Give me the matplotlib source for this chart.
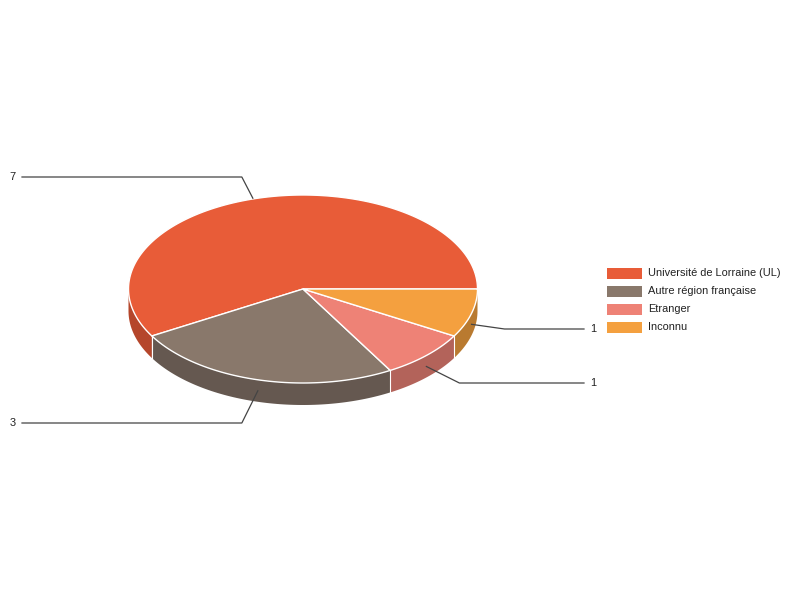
import numpy as np
import matplotlib.pyplot as plt
from matplotlib.patches import Polygon

plt.rcParams['font.family'] = ['Liberation Sans', 'DejaVu Sans']

labels = ['Université de Lorraine (UL)', 'Autre région française', 'Etranger', 'Inconnu']
values = [7, 3, 1, 1]
top_colors = ['#e85c38', '#89786b', '#ee8276', '#f4a03f']
side_colors = ['#b5462b', '#655850', '#b3635a', '#b97a30']

# pie geometry (pixels)
cx, cy = 303, 289
rx, ry = 174.5, 94
depth = 22
label_y = [177, 423, 383, 329]

fig = plt.figure(figsize=(8, 6), dpi=100)
ax = fig.add_axes([0, 0, 1, 1])
ax.set_xlim(0, 800)
ax.set_ylim(600, 0)
ax.axis('off')


def pt(a, dy=0):
    r = np.radians(a)
    return cx + rx * np.cos(r), cy - ry * np.sin(r) + dy


total = sum(values)
angles = np.concatenate([[0], np.cumsum(values) / total * 360])

# side walls (front half only)
for i in range(len(values)):
    a1, a2 = max(angles[i], 180), min(angles[i + 1], 360)
    if a2 <= a1:
        continue
    t = np.linspace(a1, a2, 80)
    top = [pt(a) for a in t]
    bot = [pt(a, depth) for a in t[::-1]]
    ax.add_patch(Polygon(top + bot, closed=True, fc=side_colors[i], ec='none', zorder=1))
for a in angles:
    if 180 < a < 360:
        x0, y0 = pt(a)
        ax.plot([x0, x0], [y0, y0 + depth], color='white', lw=0.8, zorder=2)

# top faces
for i in range(len(values)):
    t = np.linspace(angles[i], angles[i + 1], 200)
    poly = [(cx, cy)] + [pt(a) for a in t]
    ax.add_patch(Polygon(poly, closed=True, fc=top_colors[i], ec='white', lw=1, zorder=3))

# leader lines and value labels
for i, v in enumerate(values):
    mid = (angles[i] + angles[i + 1]) / 2
    front = 180 < mid < 360
    x0, y0 = pt(mid, depth / 2 if front else 0)
    ly = label_y[i]
    if x0 < cx:
        ex = x0 - 16
        ax.plot([x0 - (0 if front else 5), ex, 22], [y0, ly, ly], color='#444444', lw=0.9, zorder=4)
        ax.text(16, ly, str(v), ha='right', va='center', fontsize=7.9, color='#222222')
    else:
        ex = x0 + 33
        ax.plot([x0, ex, 584], [y0, ly, ly], color='#444444', lw=0.9, zorder=4)
        ax.text(590, ly, str(v), ha='left', va='center', fontsize=7.9, color='#222222')

# legend
for i, lab in enumerate(labels):
    y = 273 + 18 * i
    ax.add_patch(plt.Rectangle((607, y - 5.5), 35, 11, fc=top_colors[i], ec='none'))
    ax.text(648, y, lab, ha='left', va='center', fontsize=7.9, color='#222222')

fig.savefig('out.png', dpi=100)
